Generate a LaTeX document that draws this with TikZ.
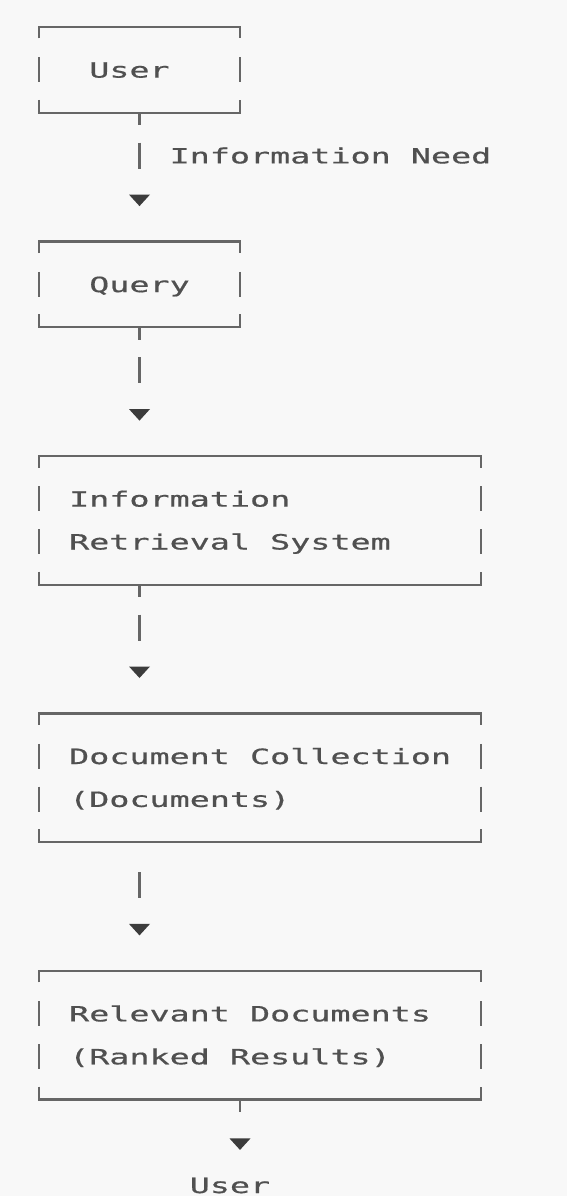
\documentclass[tikz,border=0pt]{standalone}
\usepackage{fontspec}
\usetikzlibrary{calc}
\newfontfamily\asciimono[FakeStretch=1.59,FakeBold=0.6]{DejaVu Sans Mono}
\definecolor{bgcol}{HTML}{F8F8F8}
\definecolor{textgray}{HTML}{505050}
\definecolor{linegray}{HTML}{666666}
\definecolor{arrowgray}{HTML}{3C3C3C}
\tikzset{
  wire/.style={draw=linegray, line width=2.2pt},
  asciitext/.style={font=\asciimono\fontsize{21}{21}\selectfont, text=textgray, inner sep=0pt, outer sep=0pt, anchor=base west},
  boxregion/.style 2 args={rectangle, inner sep=0pt, outer sep=0pt, minimum width=#1, minimum height=#2, anchor=north west},
  tri/.style={fill=arrowgray, draw=none}
}
\newcommand\gapbox[2]{%
  \draw[wire] ([yshift=-11.5pt]#1.north west) -- (#1.north west) -- (#1.north east) -- ([yshift=-11.5pt]#1.north east);
  \draw[wire] ([yshift=13pt]#1.south west) -- (#1.south west) -- (#1.south east) -- ([yshift=13pt]#1.south east);
  \foreach \k in {#2}{%
    \draw[wire] ($(#1.north west)+(0,{42.9*\k-12.5})$) -- ++(0,25);
    \draw[wire] ($(#1.north east)+(0,{42.9*\k-12.5})$) -- ++(0,25);
  }}
\begin{document}
\begin{tikzpicture}[x=1pt,y=-1pt]
\fill[bgcol] (0,0) rectangle (567,1196);
\useasboundingbox (0,0) rectangle (567,1196);

% box regions
\node[boxregion={201pt}{85.8pt}] (user) at (39,27) {};
\node[boxregion={201pt}{85.8pt}] (query) at (39,241.5) {};
\node[boxregion={442.2pt}{128.7pt}] (irs) at (39,456) {};
\node[boxregion={442.2pt}{128.7pt}] (coll) at (39,713.4) {};
\node[boxregion={442.2pt}{128.7pt}] (rel) at (39,970.8) {};

\gapbox{user}{1}
\gapbox{query}{1}
\gapbox{irs}{1,2}
\gapbox{coll}{1,2}
\gapbox{rel}{1,2}

% texts
\node[asciitext] (tuser) at (89.25,77.6) {User};
\node[asciitext] (tquery) at (89.25,292.1) {Query};
\node[asciitext] (tirs1) at (69.15,506.6) {Information};
\node[asciitext] (tirs2) at (69.15,549.5) {Retrieval System};
\node[asciitext] (tcoll1) at (69.15,764.0) {Document Collection};
\node[asciitext] (tcoll2) at (69.15,806.9) {(Documents)};
\node[asciitext] (trel1) at (69.15,1021.4) {Relevant Documents};
\node[asciitext] (trel2) at (69.15,1064.3) {(Ranked Results)};

% connector user -> query
\draw[wire] (user.south) -- ++(0,12.5);
\draw[wire] ($(user.south)+(0,29.9)$) -- ++(0,26);
\node[asciitext] (need) at (169.65,163.4) {Information Need};
\fill[tri] ($(query.north)+(-10.5,-46.9)$) -- ++(21,0) -- ++(-10.5,11.5) -- cycle;

% connector query -> irs
\draw[wire] (query.south) -- ++(0,12.5);
\draw[wire] ($(query.south)+(0,29.9)$) -- ++(0,26);
\fill[tri] ($(irs.north west)+(100.5-10.5,-46.9)$) -- ++(21,0) -- ++(-10.5,11.5) -- cycle;

% connector irs -> coll
\draw[wire] ($(irs.south west)+(100.5,0)$) -- ++(0,12.5);
\draw[wire] ($(irs.south west)+(100.5,29.9)$) -- ++(0,26);
\fill[tri] ($(coll.north west)+(100.5-10.5,-46.9)$) -- ++(21,0) -- ++(-10.5,11.5) -- cycle;

% connector coll -> rel
\draw[wire] ($(coll.south west)+(100.5,29.9)$) -- ++(0,26);
\fill[tri] ($(rel.north west)+(100.5-10.5,-46.9)$) -- ++(21,0) -- ++(-10.5,11.5) -- cycle;

% connector rel -> user (output)
\draw[wire] ($(rel.south west)+(201,0)$) -- ++(0,12.5);
\fill[tri] ($(rel.south west)+(201-10.5,38.9)$) -- ++(21,0) -- ++(-10.5,11.5) -- cycle;
\node[asciitext] (userout) at (189.75,1193) {User};
\end{tikzpicture}
\end{document}
